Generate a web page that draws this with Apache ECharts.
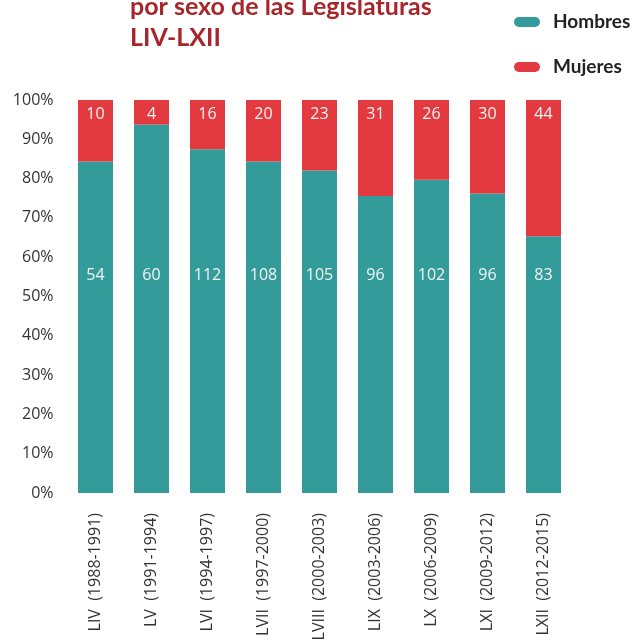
<!DOCTYPE html>
<html><head><meta charset="utf-8">
<script src="https://cdn.jsdelivr.net/npm/echarts@6/dist/echarts.min.js"></script>
<style>html,body{margin:0;padding:0;background:#fff}#c{width:632px;height:644px}</style>
</head><body><div id="c"></div>
<script>
const categories = ['LIV  (1988-1991)','LV  (1991-1994)','LVI  (1994-1997)','LVII  (1997-2000)','LVIII  (2000-2003)','LIX  (2003-2006)','LX  (2006-2009)','LXI  (2009-2012)','LXII  (2012-2015)'];
const hombres = [54, 60, 112, 108, 105, 96, 102, 96, 83];
const mujeres = [10, 4, 16, 20, 23, 31, 26, 30, 44];
const yTicks = [0,10,20,30,40,50,60,70,80,90,100];

const TFONT = 'Lato, "Open Sans", sans-serif';
const FONT = '"Open Sans", sans-serif';
const totals = hombres.map((h,i)=>h+mujeres[i]);
const hPct = hombres.map((h,i)=>h/totals[i]*100);
const mPct = mujeres.map((m,i)=>m/totals[i]*100);

const chart = echarts.init(document.getElementById('c'));
chart.setOption({
  animation:false,
  title:{
    text:'por sexo de las Legislaturas\nLIV-LXII',
    left:125, top:-14,
    textStyle:{fontFamily:TFONT,fontWeight:'bold',fontSize:25,lineHeight:31,color:'#A8262B'}
  },
  legend:{
    orient:'vertical', left:509, top:7, itemGap:25,
    itemWidth:26, itemHeight:10,
    icon:'path://M5,0 H21 A5,5 0 0 1 21,10 H5 A5,5 0 0 1 5,0 Z',
    textStyle:{fontFamily:TFONT,fontWeight:'bold',fontSize:19,lineHeight:20,color:'#222',padding:[0,0,0,8]},
    data:['Hombres','Mujeres']
  },
  grid:{left:67.5,right:60.5,top:100,bottom:151,containLabel:false},
  xAxis:{
    type:'category', data:categories,
    axisLine:{show:false}, axisTick:{show:false},
    axisLabel:{rotate:90,margin:20,fontFamily:FONT,fontSize:16,color:'#333',interval:0}
  },
  yAxis:{
    type:'value', min:yTicks[0], max:yTicks[yTicks.length-1], interval:10,
    axisLine:{show:false}, axisTick:{show:false}, splitLine:{show:false},
    axisLabel:{formatter:'{value}%',margin:14,fontFamily:FONT,fontSize:16,color:'#333'}
  },
  series:[
    {name:'Hombres',type:'bar',stack:'t',barWidth:'62.5%',
     itemStyle:{color:'#339C9A'},
     data:hPct,
     label:{show:true,position:'insideBottom',distance:210,fontFamily:FONT,fontSize:16,color:'#f4f4f4',
       formatter:p=>hombres[p.dataIndex]}},
    {name:'Mujeres',type:'bar',stack:'t',barWidth:'62.5%',
     itemStyle:{color:'#E23A3E'},
     data:mPct,
     label:{show:true,position:'insideTop',distance:6,fontFamily:FONT,fontSize:16,color:'#f4f4f4',
       formatter:p=>mujeres[p.dataIndex]}}
  ]
});
</script></body></html>
